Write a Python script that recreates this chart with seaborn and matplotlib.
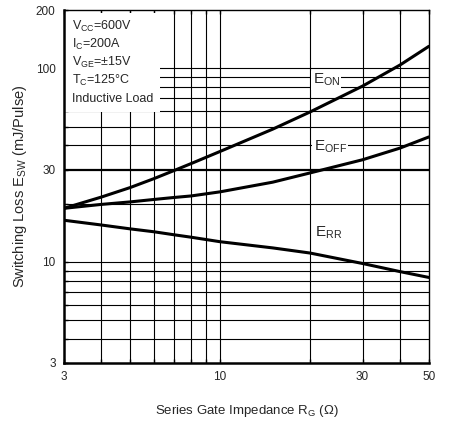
import pandas as pd
import matplotlib
matplotlib.use('Agg')
import matplotlib.pyplot as plt
from matplotlib.patches import Rectangle
from matplotlib.ticker import FixedLocator, NullFormatter
import seaborn as sns

# values
rg = [3, 4, 5, 6, 7, 8, 10, 15, 20, 30, 40, 50]
e_on = [18.9, 21.6, 24.2, 26.9, 29.6, 32.2, 37.2, 48.5, 59.5, 81.0, 104.0, 130.0]
e_off = [18.9, 19.8, 20.4, 21.0, 21.5, 21.9, 23.0, 25.8, 28.8, 33.7, 38.7, 44.2]
e_rr = [16.4, 15.5, 14.8, 14.3, 13.8, 13.4, 12.7, 11.8, 11.1, 9.8, 8.9, 8.3]

x_ticks = [3, 10, 30, 50]
y_ticks = [3, 10, 30, 100, 200]
x_grid = [4, 5, 6, 7, 8, 9, 10, 20, 30, 40]
y_grid = [4, 5, 6, 7, 8, 9, 10, 20, 30, 40, 50, 60, 70, 80, 90, 100]

conditions = [r'V$_{\mathrm{CC}}$=600V', r'I$_{\mathrm{C}}$=200A', r'V$_{\mathrm{GE}}$=±15V',
              r'T$_{\mathrm{C}}$=125°C', 'Inductive Load']

df = pd.DataFrame({'rg': rg * 3,
                   'loss': e_on + e_off + e_rr,
                   'curve': ['on'] * len(rg) + ['off'] * len(rg) + ['rr'] * len(rg)})

sns.set_theme(style="white")
plt.rcParams['font.family'] = ['Liberation Sans', 'DejaVu Sans']
plt.rcParams['mathtext.fontset'] = 'custom'
plt.rcParams['mathtext.rm'] = 'Liberation Sans'
plt.rcParams['mathtext.it'] = 'Liberation Sans'

fig = plt.figure(figsize=(4.5, 4.23), dpi=100)
ax = fig.add_axes([0.142, 0.142, 0.811, 0.834])
ax.set_xscale('log')
ax.set_yscale('log')
ax.set_xlim(3, 50)
ax.set_ylim(3, 200)

# grid lines
for gx in x_grid:
    ax.axvline(gx, color='black', lw=0.8, zorder=1)
for gy in y_grid:
    ax.axhline(gy, color='black', lw=1.6 if gy == 30 else 0.8, zorder=1)

sns.lineplot(data=df, x='rg', y='loss', hue='curve', palette=['black'] * 3,
             linewidth=2.2, legend=False, ax=ax, zorder=4)

# white panel under the test conditions
ax.add_patch(Rectangle((0, 0.711), 0.263, 0.28, transform=ax.transAxes,
                       facecolor='white', edgecolor='none', zorder=2))
for i, line in enumerate(conditions):
    ax.text(0.022, 0.953 - i * 0.051, line, transform=ax.transAxes, fontsize=9,
            va='center', ha='left', zorder=3)

box = dict(facecolor='white', edgecolor='none', pad=1)
ax.text(20.4, 87, r'E$_{\mathrm{ON}}$', fontsize=11, va='center', ha='left', bbox=box, zorder=3)
ax.text(20.6, 39.5, r'E$_{\mathrm{OFF}}$', fontsize=11, va='center', ha='left', bbox=box, zorder=3)
ax.text(20.8, 14.2, r'E$_{\mathrm{RR}}$', fontsize=11, va='center', ha='left', bbox=box, zorder=3)

ax.xaxis.set_major_locator(FixedLocator(x_ticks))
ax.xaxis.set_minor_locator(FixedLocator(x_grid))
ax.xaxis.set_minor_formatter(NullFormatter())
ax.set_xticklabels([str(t) for t in x_ticks])
ax.yaxis.set_major_locator(FixedLocator(y_ticks))
ax.yaxis.set_minor_locator(FixedLocator(y_grid))
ax.yaxis.set_minor_formatter(NullFormatter())
ax.set_yticklabels([str(t) for t in y_ticks])
ax.tick_params(axis='both', which='both', direction='in', length=3, width=1,
               labelsize=8.5, color='black', pad=6, top=True, right=False, left=True, bottom=True)

for name, s in ax.spines.items():
    s.set_color('black')
    s.set_linewidth(1.8 if name in ('left', 'bottom') else 1.0)
    s.set_zorder(5)

ax.set_xlabel(r'Series Gate Impedance R$_{\mathrm{G}}$ (Ω)', fontsize=9.5, labelpad=14)
ax.set_ylabel(r'Switching Loss E$_{\mathrm{SW}}$ (mJ/Pulse)', fontsize=10.5, labelpad=5)

fig.savefig('out.png', dpi=100)
plt.close(fig)
